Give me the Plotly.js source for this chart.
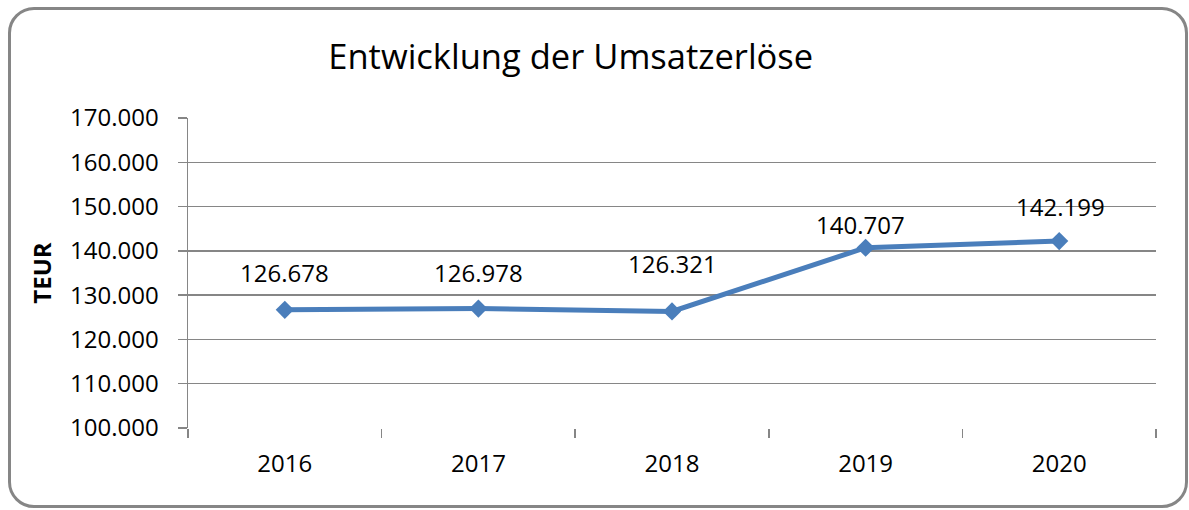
<!DOCTYPE html>
<html>
<head>
<meta charset="utf-8">
<script src="https://cdn.plot.ly/plotly-3.0.1.min.js"></script>
<style>
html,body{margin:0;padding:0;background:#fff;}
#wrap{position:relative;width:1189px;height:510px;}
#chart{width:1189px;height:510px;}
#frame{position:absolute;left:8px;top:7px;width:1180px;height:501px;border:3px solid #868686;border-radius:26px;pointer-events:none;box-sizing:border-box;}
</style>
</head>
<body>
<div id="wrap"><div id="chart"></div><div id="frame"></div></div>
<script>
const years = ['2016','2017','2018','2019','2020'];
const revenue = [126678, 126978, 126321, 140707, 142199];
const yTicks = [100000,110000,120000,130000,140000,150000,160000,170000];

const fmt = v => v.toLocaleString('de-DE');
// label offsets (px) to mimic the original label placement
const xShift = [0, 0, 0, -5, 1];
const yShift = [37, 36, 48, 23, 35];

const trace = {
  x: years, y: revenue, type: 'scatter', mode: 'lines+markers',
  line: {color: '#4a7ebb', width: 5},
  marker: {symbol: 'diamond', size: 14, color: '#4a7ebb'},
  hoverinfo: 'skip'
};

// on a category axis annotations use the category index
const annotations = years.map((yr, i) => ({
  x: i, y: revenue[i], xref: 'x', yref: 'y', text: fmt(revenue[i]),
  showarrow: false, xshift: xShift[i], yshift: yShift[i],
  font: {family: 'Open Sans, Noto Sans, sans-serif', size: 24, color: '#000'}
}));

const layout = {
  width: 1189, height: 510,
  margin: {l: 188, r: 33, t: 118, b: 82},
  paper_bgcolor: '#fff', plot_bgcolor: '#fff',
  showlegend: false,
  font: {family: 'Open Sans, Noto Sans, sans-serif', size: 24, color: '#000'},
  title: {text: 'Entwicklung der Umsatzerlöse', x: 0.48, xanchor: 'center', y: 0.888, yanchor: 'middle',
          font: {size: 34.5, color: '#000'}},
  xaxis: {type: 'category', categoryorder: 'array', categoryarray: years, range: [-0.5, years.length - 0.5],
          tickson: 'boundaries', ticks: 'outside', ticklen: 9, tickwidth: 1.5, tickangle: 0,
          tickcolor: '#868686', showgrid: false, showline: false, zeroline: false,
          ticklabelstandoff: 19, tickfont: {size: 24}},
  yaxis: {range: [100000, 170000], tickvals: yTicks, ticktext: yTicks.map(fmt),
          ticks: 'outside', ticklen: 9, tickwidth: 1.5, tickcolor: '#868686',
          showgrid: true, gridcolor: '#868686', gridwidth: 1.5,
          showline: true, linecolor: '#868686', linewidth: 1.5, zeroline: false,
          ticklabelstandoff: 14, tickfont: {size: 24},
          title: {text: '<b>TEUR</b>', standoff: 11, font: {size: 24}}},
  annotations: annotations
};

Plotly.newPlot('chart', [trace], layout, {displayModeBar: false, staticPlot: true});
</script>
</body>
</html>
